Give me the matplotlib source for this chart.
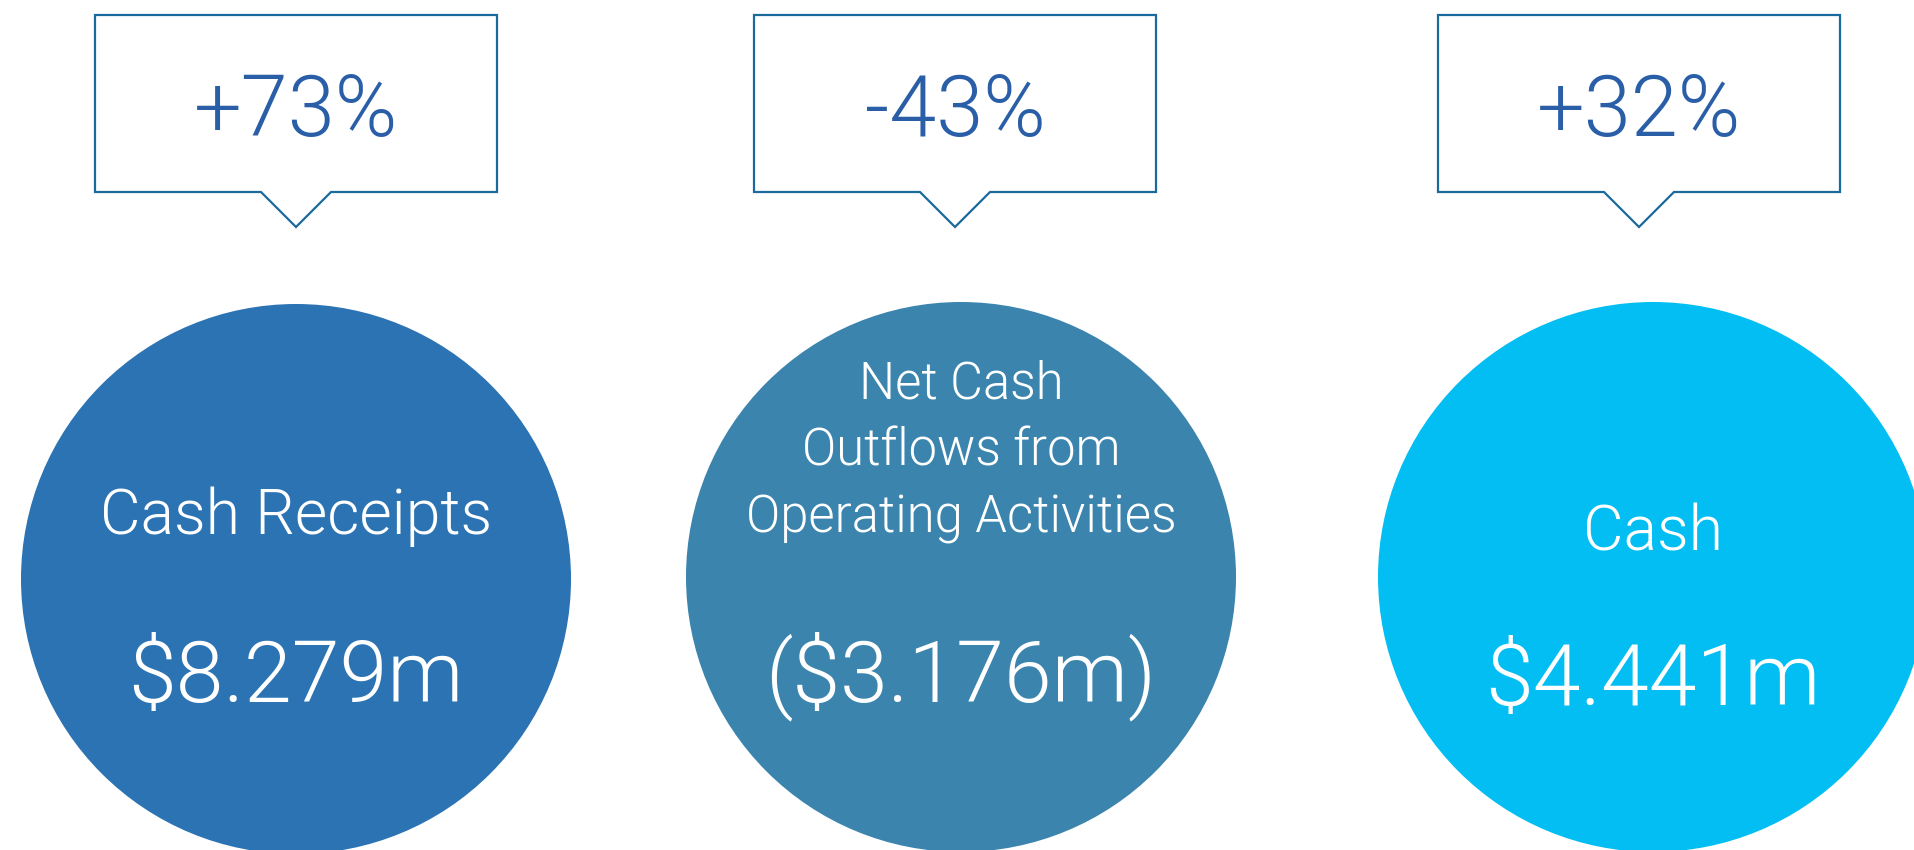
import matplotlib.pyplot as plt
from matplotlib.patches import Circle, Polygon

# data
labels = ['Cash Receipts', 'Net Cash\nOutflows from\nOperating Activities', 'Cash']
values = ['$8.279m', '($3.176m)', '$4.441m']
changes = ['+73%', '-43%', '+32%']
colors = ['#2B73B2', '#3B84AE', '#03BEF2']

# layout (pixels, figure is 1915x850 at dpi 100)
circle_x = [296, 961, 1653]
circle_y = [579, 577, 577]
radius = 275
box_x = [296, 955, 1639]
box_w, box_top, box_bot = 402, 15, 192
tip = 35
label_y = [517, 452, 533]
value_y = [679, 676, 682]

plt.rcParams['font.family'] = ['Roboto', 'DejaVu Sans']

fig = plt.figure(figsize=(19.15, 8.5), dpi=100)
ax = fig.add_axes([0, 0, 1, 1])
ax.set_xlim(0, 1915)
ax.set_ylim(850, 0)
ax.axis('off')

for i in range(len(labels)):
    ax.add_patch(Circle((circle_x[i], circle_y[i]), radius, color=colors[i], lw=0))
    fs = 36.5 if '\n' in labels[i] else 45
    ax.text(circle_x[i], label_y[i], labels[i], color='white', fontsize=fs,
            fontweight=300, ha='center', va='center', linespacing=1.44)
    ax.text(circle_x[i], value_y[i], values[i], color='white', fontsize=62,
            fontweight=300, ha='center', va='center')

    cx = box_x[i]
    l, r = cx - box_w / 2, cx + box_w / 2
    pts = [(l, box_top), (r, box_top), (r, box_bot), (cx + tip, box_bot),
           (cx, box_bot + tip), (cx - tip, box_bot), (l, box_bot)]
    ax.add_patch(Polygon(pts, closed=True, fill=False, edgecolor='#1A6A9C',
                         lw=1.6, joinstyle='miter'))
    ax.text(cx, 113, changes[i], color='#2A5FA8', fontsize=61,
            fontweight=300, ha='center', va='center')

fig.savefig('out.png', dpi=100)
